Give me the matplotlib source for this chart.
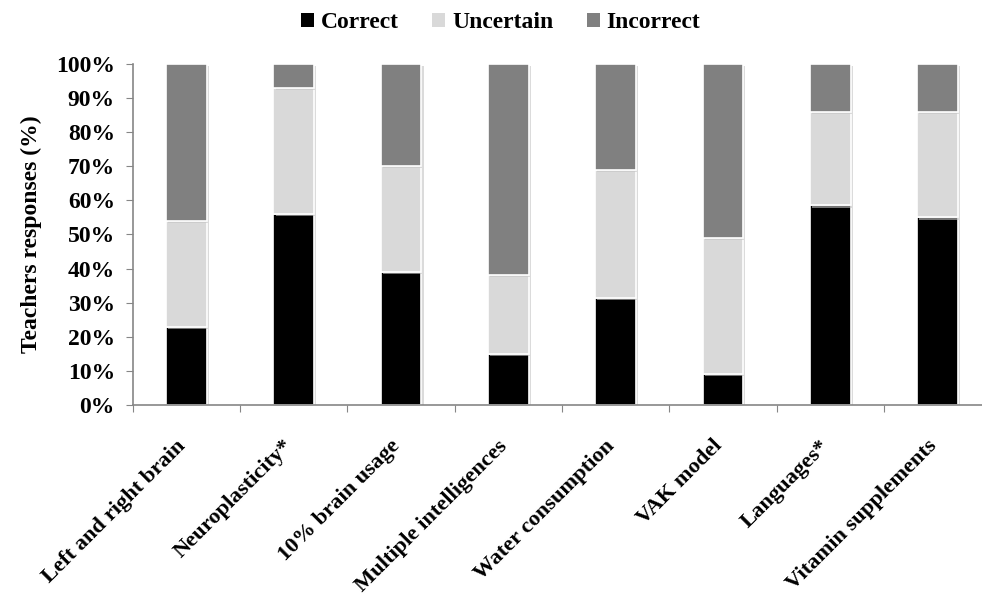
import matplotlib
matplotlib.use("Agg")
import matplotlib.pyplot as plt
import matplotlib.patheffects as pe
import matplotlib.transforms as mtransforms
from matplotlib.patches import Patch
from matplotlib.ticker import FixedLocator, PercentFormatter
import numpy as np

# Share of teachers' answers per neuromyth statement (%)
statements = [
    "Left and right brain", "Neuroplasticity*", "10% brain usage",
    "Multiple intelligences", "Water consumption", "VAK model",
    "Languages*", "Vitamin supplements",
]
correct = [23, 56, 39, 15, 31.5, 9, 58.5, 55]
uncertain = [31, 37, 31, 23, 37.5, 40, 27.5, 31]
incorrect = [46, 7, 30, 62, 31, 51, 14, 14]

plt.rcParams.update({
    "font.family": ["Liberation Serif", "DejaVu Serif"],
    "font.weight": "bold",
    "font.size": 17,
})

fig = plt.figure(figsize=(9.82, 5.99), dpi=100)
ax = fig.add_axes([0.1354, 0.3239, 0.8738, 0.5693])

x = np.arange(len(statements))
width = 0.38
shadow = [pe.SimplePatchShadow(offset=(1.5, -1.5), shadow_rgbFace="#c4c4c4", alpha=0.6), pe.Normal()]
bottom = np.zeros(len(statements))
series = [("Correct", correct, "#000000"),
          ("Uncertain", uncertain, "#d9d9d9"),
          ("Incorrect", incorrect, "#808080")]
for name, vals, color in series:
    vals = np.asarray(vals, dtype=float)
    bars = ax.bar(x, vals, width, bottom=bottom, color=color,
                  edgecolor="white", linewidth=1.2, label=name)
    for b in bars:
        b.set_path_effects(shadow)
    bottom += vals

ax.set_xlim(-0.5, len(statements) - 0.5)
ax.set_ylim(0, 100)
ax.yaxis.set_major_locator(FixedLocator(np.arange(0, 101, 10)))
ax.yaxis.set_major_formatter(PercentFormatter(decimals=0))
ax.set_ylabel("Teachers responses (%)", fontsize=17, fontweight="bold", labelpad=10)

# category ticks sit between bars; the slanted names are placed by hand
ax.set_xticks(np.arange(-0.5, len(statements), 1))
ax.set_xticklabels([])
ax.tick_params(axis="x", length=5, color="#868686", direction="out")
ax.tick_params(axis="y", length=5, color="#868686", pad=8)
label_offset = mtransforms.ScaledTranslation(-0.11, -0.31, fig.dpi_scale_trans)
for xi, name in zip(x, statements):
    ax.text(xi, 0, name, transform=ax.get_xaxis_transform() + label_offset,
            rotation=45, ha="right", va="top", rotation_mode="anchor",
            fontsize=16.2, fontweight="bold")

for side in ("top", "right"):
    ax.spines[side].set_visible(False)
for side in ("left", "bottom"):
    ax.spines[side].set_color("#868686")
    ax.spines[side].set_linewidth(1.2)

handles = [Patch(facecolor=c, edgecolor="none") for _, _, c in series]
fig.legend(handles, [n for n, _, _ in series], loc="upper center",
           bbox_to_anchor=(0.51, 1.015), ncol=3, frameon=False,
           handlelength=0.55, handleheight=0.55, handletextpad=0.3,
           columnspacing=1.4, fontsize=17)

fig.savefig("out.png", dpi=100)
